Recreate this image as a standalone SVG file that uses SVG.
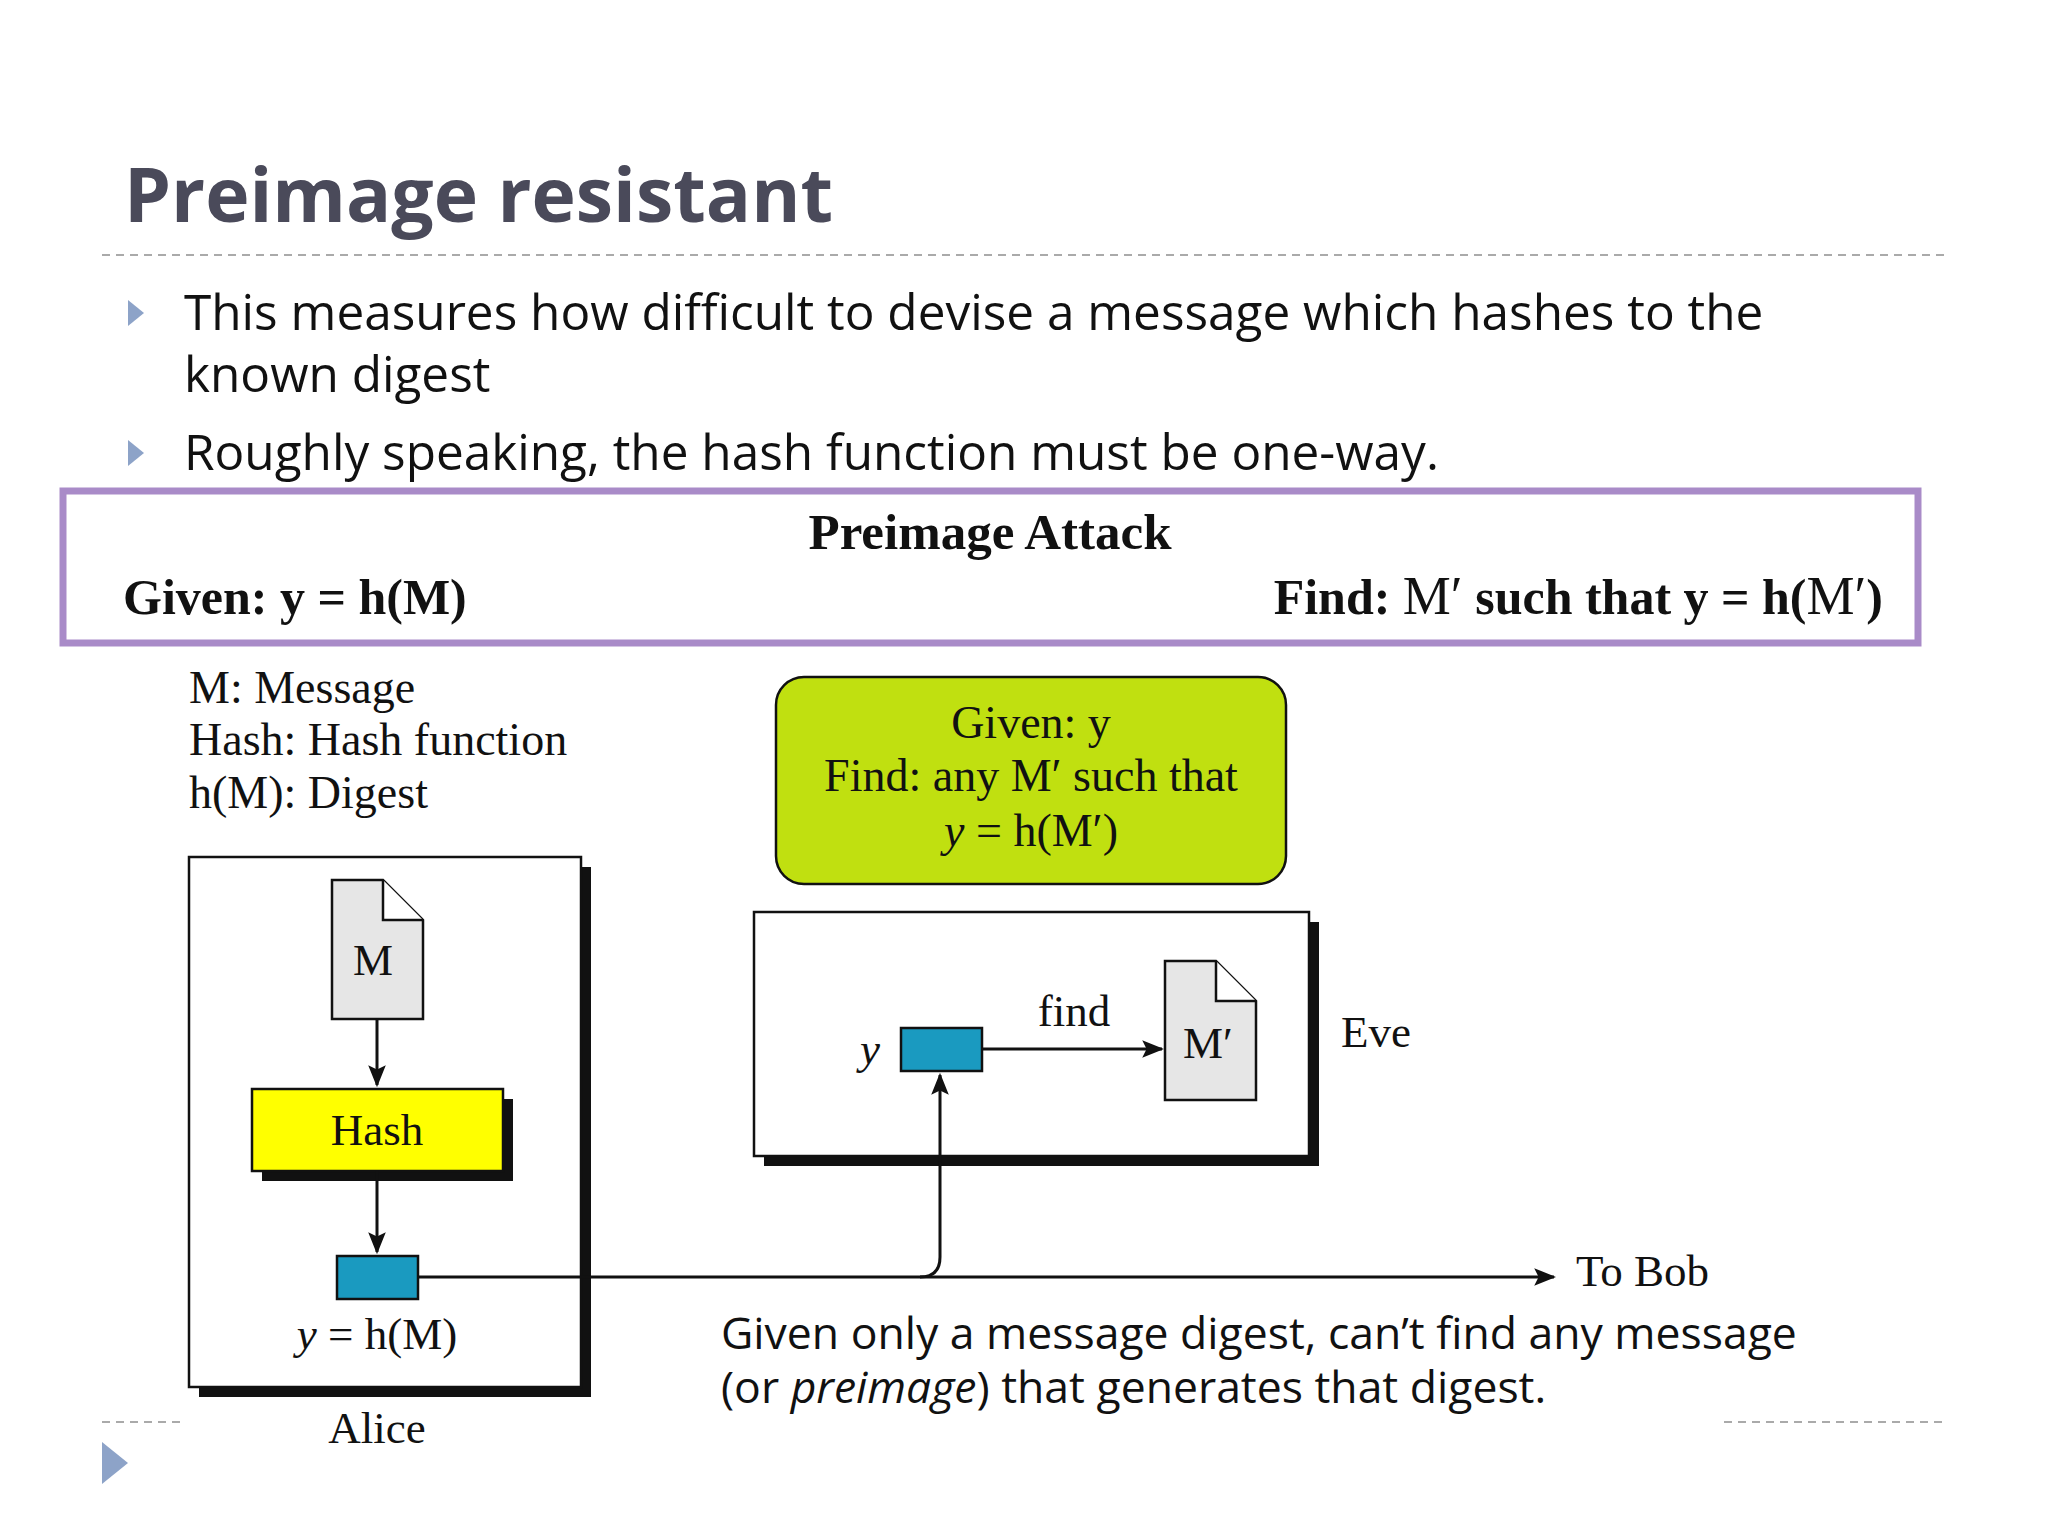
<svg xmlns="http://www.w3.org/2000/svg" width="2048" height="1536" viewBox="0 0 2048 1536">
<style>
.s{font-family:"Open Sans","Liberation Sans",sans-serif;fill:#111}
.r{font-family:"Liberation Serif","Times New Roman",serif;fill:#111}
.b{font-weight:bold}
.box{fill:#fff;stroke:#111;stroke-width:2.5}
.ln{stroke:#111;stroke-width:3;fill:none}
</style>
<defs>
<marker id="ah2" viewBox="0 0 10 10" refX="9" refY="5" markerWidth="22" markerHeight="22" markerUnits="userSpaceOnUse" orient="auto"><path d="M0,1 L10,5 L0,9 L2,5 z" fill="#111"/></marker>
</defs>
<rect width="2048" height="1536" fill="#fff"/>
<text x="124" y="222" class="s b" font-size="75" style="fill:#4a4a5a">Preimage resistant</text>
<line x1="102" y1="255" x2="1946" y2="255" stroke="#aaa" stroke-width="2" stroke-dasharray="8,6"/>
<path d="M128,300 L144,313 L128,326 z" fill="#8da3c8"/>
<text x="184" y="330" class="s" font-size="49.5">This measures how difficult to devise a message which hashes to the</text>
<text x="184" y="392" class="s" font-size="49.5">known digest</text>
<path d="M128,440 L144,453 L128,466 z" fill="#8da3c8"/>
<text x="184" y="470" class="s" font-size="49.5">Roughly speaking, the hash function must be one-way.</text>
<g id="attack">
<rect x="63" y="491" width="1855" height="152" fill="#fff" stroke="#a98bc8" stroke-width="7"/>
<text x="990" y="549" class="r b" font-size="51" text-anchor="middle">Preimage Attack</text>
<text x="123" y="614" class="r b" font-size="50">Given: y = h(M)</text>
<text x="1883" y="614" class="r b" font-size="50" text-anchor="end">Find: <tspan font-weight="normal" font-size="54">M′</tspan> such that y = h(<tspan font-weight="normal" font-size="54">M′</tspan>)</text>
</g>
<g id="legend">
<text x="189" y="703" class="r" font-size="46">M: Message</text>
<text x="189" y="755" class="r" font-size="46">Hash: Hash function</text>
<text x="189" y="808" class="r" font-size="46">h(M): Digest</text>
</g>
<g id="green">
<rect x="776" y="677" width="510" height="207" rx="28" fill="#c0e010" stroke="#111" stroke-width="2.5"/>
<text x="1031" y="738" class="r" font-size="46" text-anchor="middle">Given: y</text>
<text x="1031" y="791" class="r" font-size="46" text-anchor="middle">Find: any M′ such that</text>
<text x="1031" y="846" class="r" font-size="46" text-anchor="middle"><tspan font-style="italic">y</tspan> = h(M′)</text>
</g>
<g id="alice">
<rect x="199" y="867" width="392" height="530" fill="#111"/>
<rect x="189" y="857" width="392" height="530" class="box"/>
<text x="377" y="1443" class="r" font-size="45" text-anchor="middle">Alice</text>
</g>
<g id="m-doc">
<path d="M332,880 L383,880 L423,920 L423,1019 L332,1019 z" fill="#e6e6e6" stroke="#111" stroke-width="2.5"/>
<path d="M383,880 L383,920 L423,920" fill="#fff" stroke="#111" stroke-width="2.5"/>
<text x="373" y="975" class="r" font-size="45" text-anchor="middle">M</text>
</g>
<g id="hash">
<rect x="262" y="1099" width="251" height="82" fill="#111"/>
<rect x="252" y="1089" width="251" height="82" fill="#ffff00" stroke="#111" stroke-width="2.5"/>
<text x="377" y="1145" class="r" font-size="45" text-anchor="middle">Hash</text>
</g>
<g id="digest">
<rect x="337" y="1256" width="81" height="43" fill="#1a9ac0" stroke="#111" stroke-width="2.5"/>
<text x="377" y="1349" class="r" font-size="45" text-anchor="middle"><tspan font-style="italic">y</tspan> = h(M)</text>
</g>
<g id="eve">
<rect x="764" y="922" width="555" height="244" fill="#111"/>
<rect x="754" y="912" width="555" height="244" class="box"/>
<text x="1341" y="1047" class="r" font-size="45">Eve</text>
</g>
<g id="eve-y">
<rect x="901" y="1028" width="81" height="43" fill="#1a9ac0" stroke="#111" stroke-width="2.5"/>
<text x="870" y="1064" class="r" font-size="45" font-style="italic" text-anchor="middle">y</text>
</g>
<g id="mprime">
<path d="M1165,961 L1216,961 L1256,1001 L1256,1100 L1165,1100 z" fill="#e6e6e6" stroke="#111" stroke-width="2.5"/>
<path d="M1216,961 L1216,1001 L1256,1001" fill="#fff" stroke="#111" stroke-width="2.5"/>
<text x="1208" y="1058" class="r" font-size="45" text-anchor="middle">M′</text>
</g>
<g id="connectors">
<line x1="377" y1="1019" x2="377" y2="1085" class="ln" marker-end="url(#ah2)"/>
<line x1="377" y1="1171" x2="377" y2="1252" class="ln" marker-end="url(#ah2)"/>
<line x1="418" y1="1277" x2="1554" y2="1277" class="ln" marker-end="url(#ah2)"/>
<path d="M920,1277 Q940,1277 940,1257 L940,1075" class="ln" marker-end="url(#ah2)"/>
<line x1="982" y1="1049" x2="1162" y2="1049" class="ln" marker-end="url(#ah2)"/>
<text x="1074" y="1026" class="r" font-size="45" text-anchor="middle">find</text>
<text x="1576" y="1286" class="r" font-size="45">To Bob</text>
</g>
<text x="721" y="1349" class="s" font-size="44.5">Given only a message digest, can’t find any message</text>
<text x="721" y="1403" class="s" font-size="44.5">(or <tspan font-style="italic">preimage</tspan>) that generates that digest.</text>
<line x1="102" y1="1422" x2="183" y2="1422" stroke="#aaa" stroke-width="2" stroke-dasharray="8,6"/>
<line x1="1724" y1="1422" x2="1946" y2="1422" stroke="#aaa" stroke-width="2" stroke-dasharray="8,6"/>
<path d="M102,1442 L128,1463 L102,1484 z" fill="#8da3c8"/>
</svg>
